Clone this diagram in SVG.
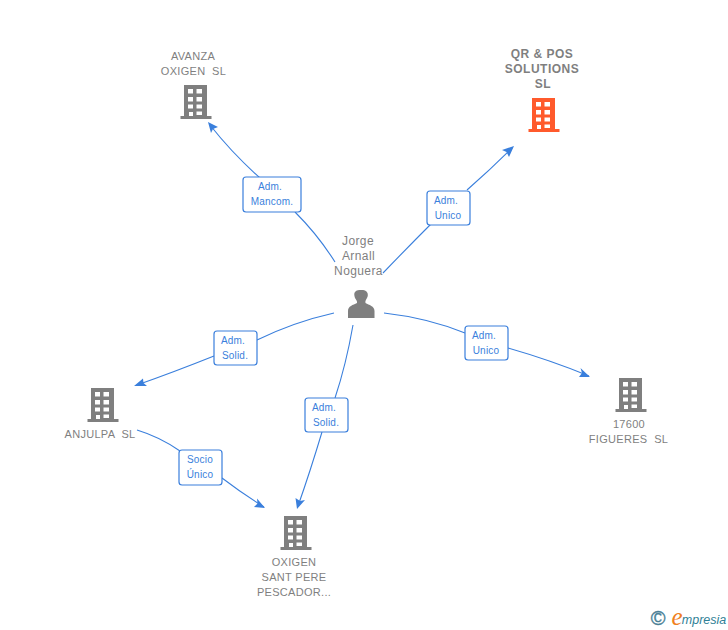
<svg xmlns="http://www.w3.org/2000/svg" width="728" height="630" viewBox="0 0 728 630">
<style>
text{font-family:"Liberation Sans",Arial,sans-serif;text-anchor:middle;white-space:pre}
.n{font-size:11px;fill:#7f7f7f;letter-spacing:.3px}
.b{font-size:12px;font-weight:bold;fill:#7f7f7f;letter-spacing:.5px}
.p{font-size:12px;fill:#7f7f7f;letter-spacing:.4px}
.l{font-size:10px;fill:#3a7fdc;letter-spacing:.2px}
.c{fill:none;stroke:#3a7fdc;stroke-width:1.1}
.box{fill:#fff;stroke:#3a7fdc;stroke-width:1.2}
.a{fill:#3a7fdc}
</style>
<defs>
<symbol id="bld" viewBox="0 0 32 34" overflow="visible">
<path fill-rule="evenodd" d="M4 0H27V31H31.500V34H.5V31H4ZM8 4V8.500H13V4ZM16.500 4V8.500H22V4ZM8 12V16.500H13V12ZM16.500 12V16.500H22V12ZM8 19.500V23.500H13V19.500ZM16.500 19.500V23.500H22V19.500ZM9 27V31H13V27ZM16.500 26.500V30H22V26.500Z"/>
</symbol>
</defs>
<g id="connectors">
<path class="c" d="M260 178Q232 153 210 125"/><path class="a" d="M208 122L218 127L213 129L211 133Z"/>
<path class="c" d="M295 212Q318 235 335 262"/>
<path class="c" d="M383 273Q408 247 431 224"/>
<path class="c" d="M467 190Q491 169 512 148"/><path class="a" d="M514 146L509 157L506.500 152L502 150Z"/>
<path class="c" d="M334 313Q294 322 257 340"/>
<path class="c" d="M214 356Q174 372 137 385"/><path class="a" d="M134 386L143 378.500L143.500 383L147 386Z"/>
<path class="c" d="M353 325Q346 365 335 398"/>
<path class="c" d="M322 432Q310 472 298 506"/><path class="a" d="M297 509L295.500 498L300 501L305 500Z"/>
<path class="c" d="M384 313Q428 318 465 333"/>
<path class="c" d="M508 348Q550 360 589 376"/><path class="a" d="M590 377L579 377L582 373L580.500 368Z"/>
<path class="c" d="M137 430Q160 437 180 451"/>
<path class="c" d="M222 478Q243 494 264 507"/><path class="a" d="M265 508L254 507L257.500 503.500L257 498.500Z"/>
</g>
<g id="node-avanza">
<text class="n" x="193" y="60">AVANZA</text><text class="n" x="193.500" y="75">OXIGEN  SL</text>
<use href="#bld" x="180" y="85" width="32" height="34" fill="#7f7f7f"/>
</g>
<g id="node-qr">
<text class="b" x="542" y="58">QR &amp; POS</text><text class="b" x="542" y="73">SOLUTIONS</text><text class="b" x="543" y="88">SL</text>
<use href="#bld" x="528" y="98" width="32" height="34" fill="#ff5a2c"/>
</g>
<g id="node-jorge">
<text class="p" x="358" y="245">Jorge</text><text class="p" x="358.500" y="260">Arnall</text><text class="p" x="358.500" y="275">Noguera</text>
<path fill="#7f7f7f" d="M348 318V311C348 306 353 305 357 303C357.500 301 356 300 355 298C354 295 354 293 355 292C356.500 290 359 290 361 290C364 290 366.500 290.500 367.500 293C368 295 368 296 367 298C366 300 365 301 365.500 303C369 305 374.500 306 374.500 311V318Z"/>
</g>
<g id="node-anjulpa">
<text class="n" x="100" y="438">ANJULPA  SL</text>
<use href="#bld" x="87" y="388" width="32" height="34" fill="#7f7f7f"/>
</g>
<g id="node-oxigen">
<text class="n" x="294" y="566">OXIGEN</text><text class="n" x="294" y="581">SANT PERE</text><text class="n" x="294" y="596">PESCADOR...</text>
<use href="#bld" x="280" y="516" width="32" height="34" fill="#7f7f7f"/>
</g>
<g id="node-figueres">
<text class="n" x="629" y="428">17600</text><text class="n" x="628.500" y="443">FIGUERES  SL</text>
<use href="#bld" x="615" y="378" width="32" height="34" fill="#7f7f7f"/>
</g>
<g id="edge-label-1"><rect class="box" x="243" y="177" width="58" height="35" rx="3"/><text class="l" x="270" y="190">Adm.</text><text class="l" x="272" y="205">Mancom.</text></g>
<g id="edge-label-2"><rect class="box" x="427" y="191" width="43" height="34" rx="3"/><text class="l" x="446" y="204">Adm.</text><text class="l" x="448" y="219">Unico</text></g>
<g id="edge-label-3"><rect class="box" x="214" y="331" width="43" height="34" rx="3"/><text class="l" x="233" y="344">Adm.</text><text class="l" x="235" y="359">Solid.</text></g>
<g id="edge-label-4"><rect class="box" x="305" y="398" width="43" height="34" rx="3"/><text class="l" x="324" y="411">Adm.</text><text class="l" x="326" y="426">Solid.</text></g>
<g id="edge-label-5"><rect class="box" x="465" y="326" width="43" height="34" rx="3"/><text class="l" x="484" y="339">Adm.</text><text class="l" x="486" y="354">Unico</text></g>
<g id="edge-label-6"><rect class="box" x="179" y="450" width="43" height="35" rx="3"/><text class="l" x="200" y="463">Socio</text><text class="l" x="200" y="478">Único</text></g>
<g id="logo">
<text x="658" y="625" style="font-size:20px;fill:#4a7f96;stroke:#4a7f96;stroke-width:.4">©</text>
<text x="677" y="625" style="font-size:25px;font-style:italic;fill:#f08020;font-family:'Liberation Serif',serif">e</text>
<text x="704" y="624" style="font-size:12.500px;font-style:italic;fill:#2f7f96">mpresia</text>
</g>
</svg>
